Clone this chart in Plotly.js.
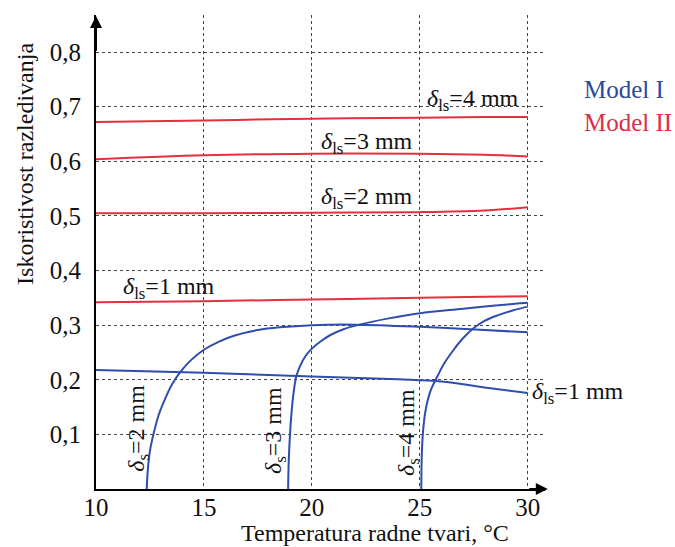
<!DOCTYPE html>
<html>
<head>
<meta charset="utf-8">
<script src="https://cdn.plot.ly/plotly-3.0.1.min.js"></script>
<style>html,body{margin:0;padding:0;background:#fff;}#chart{width:675px;height:547px;}</style>
</head>
<body>
<div id="chart"></div>
<script>
// Model II (red) series
const redX = [10, 15, 20, 25, 28, 30];
const red4 = [0.672, 0.675, 0.678, 0.680, 0.681, 0.681];
const red3 = [0.604, 0.611, 0.614, 0.614, 0.612, 0.609];
const red2 = [0.505, 0.505, 0.506, 0.507, 0.510, 0.516];
const red1 = [0.342, 0.344, 0.347, 0.350, 0.352, 0.353];

// Model I (blue) series
const blue1X = [10, 15, 20, 24, 26, 28, 30];
const blue1Y = [0.218, 0.213, 0.206, 0.201, 0.197, 0.186, 0.176];
const blue2X = [12.35, 12.4, 12.5, 12.66, 12.9, 13.2, 13.5, 13.9, 14.4, 15, 15.7, 16.5, 17.5, 18.5, 20, 22, 25, 28, 30];
const blue2Y = [0, 0.035, 0.07, 0.1, 0.135, 0.165, 0.19, 0.214, 0.236, 0.255, 0.270, 0.282, 0.291, 0.296, 0.300, 0.301, 0.297, 0.291, 0.287];
const blue3X = [18.9, 18.92, 18.96, 19.02, 19.12, 19.27, 19.45, 19.7, 20.0, 20.4, 20.86, 21.5, 22.2, 23.5, 25, 27, 28.5, 30];
const blue3Y = [0, 0.04, 0.08, 0.12, 0.165, 0.205, 0.225, 0.243, 0.257, 0.270, 0.282, 0.293, 0.301, 0.312, 0.322, 0.330, 0.336, 0.341];
const blue4X = [25.07, 25.08, 25.11, 25.16, 25.25, 25.38, 25.55, 25.8, 26.1, 26.57, 27.0, 27.5, 28.0, 28.6, 29.3, 30];
const blue4Y = [0, 0.04, 0.08, 0.11, 0.14, 0.165, 0.185, 0.205, 0.228, 0.255, 0.276, 0.295, 0.308, 0.318, 0.327, 0.334];

const xTicks = [10, 15, 20, 25, 30];
const yTicks = [0.1, 0.2, 0.3, 0.4, 0.5, 0.6, 0.7, 0.8];

const RED = '#E2303C';
const BLUE = '#2E4DAE';
const FONT = 'Liberation Serif';

function tr(x, y, color) {
  return {x: x, y: y, type: 'scatter', mode: 'lines',
    line: {color: color, width: 2, shape: 'spline', smoothing: 1},
    hoverinfo: 'skip', showlegend: false};
}

const data = [
  tr(redX, red4, RED), tr(redX, red3, RED), tr(redX, red2, RED), tr(redX, red1, RED),
  tr(blue1X, blue1Y, BLUE), tr(blue2X, blue2Y, BLUE), tr(blue3X, blue3Y, BLUE), tr(blue4X, blue4Y, BLUE)
];

function lab(text, x, y, opts) {
  return Object.assign({text: text, x: x, y: y, xref: 'x', yref: 'y', showarrow: false,
    xanchor: 'center', yanchor: 'middle',
    font: {family: FONT, size: 24, color: '#111'}}, opts || {});
}
const lsub = (n) => '<i>δ</i><sub>ls</sub>=' + n + ' mm';
const ssub = (n) => '<i>δ</i><sub>s</sub>=' + n + ' mm';

const annotations = [
  lab(lsub(4), 27.45, 0.712),
  lab(lsub(3), 22.55, 0.634),
  lab(lsub(2), 22.55, 0.533),
  lab(lsub(1), 13.38, 0.368),
  lab(lsub(1), 30.1, 0.176, {xanchor: 'left'}),
  lab(ssub(2), 11.94, 0.112, {textangle: -90}),
  lab(ssub(3), 18.29, 0.108, {textangle: -90}),
  lab(ssub(4), 24.44, 0.104, {textangle: -90}),
  // legend texts
  {text: 'Model I', xref: 'paper', yref: 'paper', x: 1.082, y: 0.842, xanchor: 'left', yanchor: 'middle', showarrow: false,
   font: {family: FONT, size: 25, color: '#2C4A9C'}},
  {text: 'Model II', xref: 'paper', yref: 'paper', x: 1.082, y: 0.774, xanchor: 'left', yanchor: 'middle', showarrow: false,
   font: {family: FONT, size: 25, color: '#D8304A'}},
  // axis titles
  {text: 'Iskoristivost razledivanja', xref: 'paper', yref: 'paper', x: -0.158, y: 0.686, textangle: -90,
   xanchor: 'center', yanchor: 'middle',
   showarrow: false, font: {family: FONT, size: 24, color: '#111'}},
  {text: 'Temperatura radne tvari, °C', xref: 'paper', yref: 'paper', x: 0.621, y: -0.093,
   xanchor: 'center', yanchor: 'middle',
   showarrow: false, font: {family: FONT, size: 24, color: '#111'}},
  // axis arrows
  {text: '', x: 10, y: 0.866, ax: 10, ay: 0.80, xref: 'x', yref: 'y', axref: 'x', ayref: 'y',
   showarrow: true, arrowhead: 2, arrowsize: 1.2, arrowwidth: 2, arrowcolor: '#000'},
  {text: '', x: 30.93, y: 0, ax: 30.0, ay: 0, xref: 'x', yref: 'y', axref: 'x', ayref: 'y',
   showarrow: true, arrowhead: 2, arrowsize: 1.2, arrowwidth: 2, arrowcolor: '#000'}
];

const layout = {
  width: 675, height: 547,
  margin: {l: 96, r: 130, t: 15, b: 58},
  paper_bgcolor: '#fff', plot_bgcolor: '#fff',
  font: {family: FONT, size: 24, color: '#111'},
  separators: ',.',
  showlegend: false,
  xaxis: {range: [10, 30.8], tickvals: xTicks, ticktext: xTicks.map(String),
    showgrid: true, griddash: 'dot', gridcolor: '#444', gridwidth: 1,
    zeroline: false, showline: true, linecolor: '#000', linewidth: 2,
    ticks: '', ticklabelstandoff: -5, tickfont: {family: FONT, size: 25, color: '#111'}, fixedrange: true},
  yaxis: {range: [0, 0.868], tickvals: yTicks, tickformat: '.1f',
    showgrid: true, griddash: 'dot', gridcolor: '#444', gridwidth: 1,
    zeroline: false, showline: true, linecolor: '#000', linewidth: 2,
    ticks: '', ticklabelstandoff: 8, tickfont: {family: FONT, size: 25, color: '#111'}, fixedrange: true},
  annotations: annotations
};

Plotly.newPlot('chart', data, layout, {staticPlot: true});
</script>
</body>
</html>
